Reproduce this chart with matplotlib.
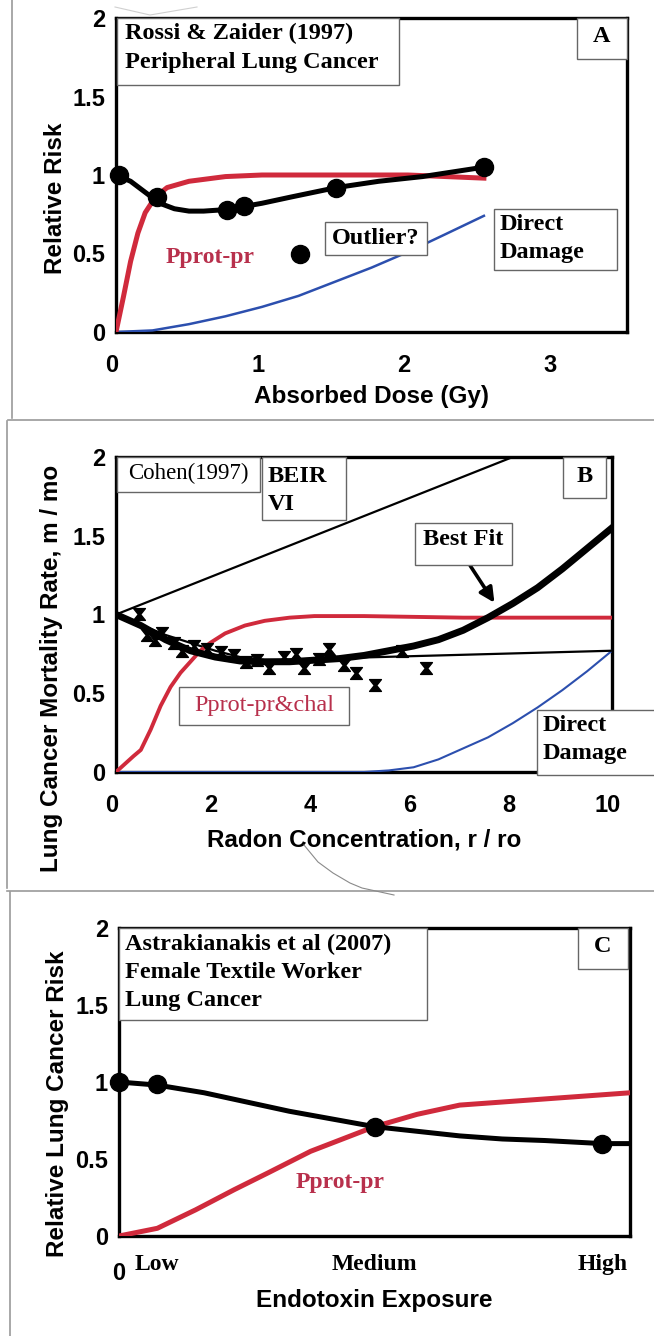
import matplotlib
matplotlib.use("Agg")
import matplotlib.pyplot as plt
import matplotlib.transforms as mtransforms
from matplotlib.patches import Rectangle
from matplotlib.lines import Line2D
from matplotlib.path import Path

# ---- Panel A: Rossi & Zaider (1997), peripheral lung cancer ----
dose_obs = [0.02, 0.28, 0.76, 0.88, 1.51, 2.52]
rr_obs = [1.00, 0.86, 0.78, 0.80, 0.92, 1.05]
dose_outlier = [1.26]
rr_outlier = [0.50]
dose_fit = [0.0, 0.1, 0.2, 0.3, 0.4, 0.5, 0.6, 0.76, 0.88, 1.0, 1.2, 1.51, 1.8, 2.1, 2.52]
rr_fit = [1.00, 0.96, 0.89, 0.82, 0.785, 0.77, 0.77, 0.78, 0.80, 0.82, 0.86, 0.92, 0.96, 0.99, 1.05]
dose_prot = [0.0, 0.05, 0.1, 0.15, 0.2, 0.27, 0.35, 0.5, 0.75, 1.0, 2.0, 2.52]
prot_a = [0.0, 0.22, 0.45, 0.63, 0.76, 0.86, 0.92, 0.96, 0.99, 1.0, 1.0, 0.98]
dose_direct = [0.0, 0.25, 0.5, 0.75, 1.0, 1.25, 1.5, 1.75, 2.0, 2.25, 2.52]
direct_a = [0.0, 0.01, 0.05, 0.10, 0.16, 0.23, 0.32, 0.41, 0.51, 0.62, 0.74]

# ---- Panel B: Cohen (1997), radon ----
radon_obs = [0.46, 0.63, 0.79, 0.93, 1.17, 1.33, 1.57, 1.84, 2.12, 2.37, 2.62, 2.85,
             3.08, 3.38, 3.62, 3.80, 4.09, 4.29, 4.59, 4.83, 5.22, 5.77, 6.24]
rate_obs = [1.00, 0.87, 0.84, 0.88, 0.82, 0.77, 0.80, 0.78, 0.76, 0.74, 0.70, 0.71,
            0.66, 0.73, 0.75, 0.66, 0.72, 0.78, 0.68, 0.63, 0.55, 0.77, 0.66]
radon_fit = [0, 0.5, 1, 1.5, 2, 2.5, 3, 3.5, 4, 4.5, 5, 5.5, 6, 6.5, 7, 7.5, 8, 8.5, 9, 9.5, 10]
rate_fit = [1.0, 0.93, 0.84, 0.77, 0.73, 0.705, 0.70, 0.70, 0.71, 0.72, 0.74, 0.77, 0.80,
            0.84, 0.90, 0.98, 1.07, 1.17, 1.29, 1.42, 1.55]
radon_beir = [0, 8]
rate_beir = [1.0, 2.0]
radon_lin = [0, 1, 2, 2.5, 3, 10]
rate_lin = [1.0, 0.87, 0.77, 0.73, 0.71, 0.77]
radon_prot = [0, 0.35, 0.5, 0.7, 0.9, 1.1, 1.3, 1.5, 1.7, 1.9, 2.2, 2.6, 3.0, 3.5, 4.0, 5.0, 7.0, 10.0]
prot_b = [0, 0.10, 0.14, 0.27, 0.42, 0.54, 0.63, 0.70, 0.77, 0.82, 0.88, 0.93, 0.96, 0.98, 0.99, 0.99, 0.98, 0.98]
radon_direct = [0, 5, 5.5, 6, 6.5, 7, 7.5, 8, 8.5, 9, 9.5, 10]
direct_b = [0, 0, 0.01, 0.03, 0.08, 0.15, 0.22, 0.31, 0.41, 0.52, 0.64, 0.77]

# ---- Panel C: Astrakianakis et al (2007), endotoxin ----
exposure_cats = ["0", "Low", "Medium", "High"]
exposure_pos = [0.0, 0.9, 6.0, 11.35]
risk_obs = [1.00, 0.99, 0.71, 0.60]
expo_fit = [0, 0.9, 2, 3, 4, 5, 6, 7, 8, 9, 10, 11.35, 12]
risk_fit = [1.00, 0.98, 0.93, 0.87, 0.81, 0.76, 0.71, 0.68, 0.65, 0.63, 0.62, 0.60, 0.60]
expo_prot = [0, 0.9, 1.8, 2.7, 3.5, 4.5, 6, 7, 8, 9, 10, 11, 12]
prot_c = [0, 0.05, 0.17, 0.30, 0.41, 0.55, 0.71, 0.79, 0.85, 0.87, 0.89, 0.91, 0.93]

RED = "#d02a3c"
RED_TXT = "#b8304c"
BLUE = "#2c4fae"
SANS = "Liberation Sans"
SERIF = "Liberation Serif"

plt.rcParams["font.family"] = SANS
plt.rcParams["font.weight"] = "bold"

W, H = 654, 1336
fig = plt.figure(figsize=(W / 100, H / 100), dpi=100)


def px_axes(left, top, right, bottom):
    return fig.add_axes([left / W, 1 - bottom / H, (right - left) / W, (bottom - top) / H])


def frame_line(xs, ys, **kw):
    fig.add_artist(Line2D([x / W for x in xs], [1 - y / H for y in ys],
                          transform=fig.transFigure, **kw))


def box(ax, x0, y0, x1, y1):
    ax.add_patch(Rectangle((x0, y0), x1 - x0, y1 - y0, transform=ax.transAxes,
                           facecolor="white", edgecolor="#666666", lw=1.0,
                           zorder=6, clip_on=False))


def boxtext(ax, x, y, s, ha="left", color="black", weight="bold", size=17.5):
    ax.text(x, y, s, transform=ax.transAxes, ha=ha, va="center", color=color,
            family=SERIF, weight=weight, fontsize=size, zorder=7)


def style_axes(ax, ylabel, xlabel, ylab_xy, xlab_y):
    for sp in ax.spines.values():
        sp.set_linewidth(2.4)
        sp.set_color("black")
    ax.set_ylim(0, 2)
    ax.set_yticks([0, 0.5, 1, 1.5, 2])
    ax.set_yticklabels(["0", "0.5", "1", "1.5", "2"])
    ax.tick_params(length=0, labelsize=17)
    ax.tick_params(axis="x", pad=16)
    ax.tick_params(axis="y", pad=8)
    ax.set_ylabel(ylabel, fontsize=17.5, weight="bold")
    ax.yaxis.set_label_coords(*ylab_xy)
    ax.set_xlabel(xlabel, fontsize=17.5, weight="bold")
    ax.xaxis.set_label_coords(0.5, xlab_y)
    shift = mtransforms.ScaledTranslation(-4 / 100, 0, fig.dpi_scale_trans)
    for lab in ax.get_xticklabels():
        lab.set_transform(lab.get_transform() + shift)


# hourglass marker used for the Cohen county data
hourglass = Path([(-1, 1), (1, 1), (0.2, 0), (1, -1), (-1, -1), (-0.2, 0), (-1, 1)],
                 [Path.MOVETO] + [Path.LINETO] * 5 + [Path.CLOSEPOLY])

# ---------------- Panel A ----------------
axA = px_axes(116, 18, 627, 332)
axA.plot(dose_direct, direct_a, color=BLUE, lw=1.8, zorder=3)
axA.plot(dose_prot, prot_a, color=RED, lw=3.6, zorder=3)
axA.plot(dose_fit, rr_fit, color="black", lw=3.6, zorder=4)
axA.plot(dose_obs, rr_obs, "o", color="black", ms=13, zorder=5, clip_on=False)
axA.plot(dose_outlier, rr_outlier, "o", color="black", ms=13, zorder=5)
axA.set_xlim(0, 3.5)
axA.set_xticks([0, 1, 2, 3])
axA.set_xticklabels(["0", "1", "2", "3"])
style_axes(axA, "Relative Risk", "Absorbed Dose (Gy)", (-0.095, 0.427), -0.170)

box(axA, 0.002, 0.787, 0.554, 1.0)
boxtext(axA, 0.018, 0.950, "Rossi & Zaider (1997)")
boxtext(axA, 0.018, 0.858, "Peripheral Lung Cancer")
box(axA, 0.902, 0.869, 1.0, 1.0)
boxtext(axA, 0.951, 0.940, "A", ha="center")
boxtext(axA, 0.184, 0.236, "Pprot-pr", ha="center", color=RED_TXT, size=17)
box(axA, 0.409, 0.245, 0.609, 0.350)
boxtext(axA, 0.509, 0.298, "Outlier?", ha="center")
box(axA, 0.740, 0.197, 0.980, 0.392)
boxtext(axA, 0.751, 0.341, "Direct")
boxtext(axA, 0.751, 0.252, "Damage")

# ---------------- Panel B ----------------
axB = px_axes(116, 457, 612, 772)
axB.plot(radon_direct, direct_b, color=BLUE, lw=1.5, zorder=3)
axB.plot(radon_beir, rate_beir, color="black", lw=1.6, zorder=3)
axB.plot(radon_lin, rate_lin, color="black", lw=1.6, zorder=3)
axB.plot(radon_prot, prot_b, color=RED, lw=2.8, zorder=3)
axB.plot(radon_fit, rate_fit, color="black", lw=5, zorder=4)
axB.plot(radon_obs, rate_obs, linestyle="none", marker=hourglass, ms=8.5,
         color="black", zorder=5)
axB.set_xlim(0, 10)
axB.set_xticks([0, 2, 4, 6, 8, 10])
axB.set_xticklabels(["0", "2", "4", "6", "8", "10"])
style_axes(axB, "Lung Cancer Mortality Rate, m / mo", "Radon Concentration, r / ro",
           (-0.107, 0.33), -0.178)

axB.annotate("", xy=(7.66, 1.06), xytext=(7.11, 1.325),
             arrowprops=dict(arrowstyle="-|>", color="black", lw=2.6,
                             mutation_scale=22), zorder=6)
box(axB, 0.002, 0.889, 0.290, 1.0)
boxtext(axB, 0.146, 0.947, "Cohen(1997)", ha="center", weight="normal", size=16.5)
box(axB, 0.294, 0.800, 0.464, 1.0)
boxtext(axB, 0.306, 0.937, "BEIR")
boxtext(axB, 0.306, 0.848, "VI")
box(axB, 0.901, 0.870, 0.988, 1.0)
boxtext(axB, 0.944, 0.937, "B", ha="center")
box(axB, 0.603, 0.657, 0.798, 0.790)
boxtext(axB, 0.700, 0.737, "Best Fit", ha="center")
box(axB, 0.127, 0.149, 0.470, 0.270)
boxtext(axB, 0.298, 0.210, "Pprot-pr&chal", ha="center", color=RED_TXT,
        weight="normal", size=17.5)
box(axB, 0.849, -0.01, 1.12, 0.197)
boxtext(axB, 0.859, 0.149, "Direct")
boxtext(axB, 0.859, 0.060, "Damage")

# ---------------- Panel C ----------------
axC = px_axes(119, 928, 630, 1236)
axC.plot(expo_prot, prot_c, color=RED, lw=3.6, zorder=3)
axC.plot(expo_fit, risk_fit, color="black", lw=3.6, zorder=4)
axC.plot(exposure_pos, risk_obs, "o", color="black", ms=13, zorder=5, clip_on=False)
axC.set_xlim(0, 12)
axC.set_xticks(exposure_pos)
axC.set_xticklabels(exposure_cats)
style_axes(axC, "Relative Lung Cancer Risk", "Endotoxin Exposure", (-0.098, 0.43), -0.172)
axC.tick_params(axis="x", pad=13)
for lab in axC.get_xticklabels()[1:]:
    lab.set_family(SERIF)
    lab.set_fontsize(17)
zero_lab = axC.get_xticklabels()[0]
zero_lab.set_transform(zero_lab.get_transform() +
                       mtransforms.ScaledTranslation(0, -8 / 100, fig.dpi_scale_trans))

box(axC, 0.0, 0.701, 0.603, 1.0)
boxtext(axC, 0.012, 0.945, "Astrakianakis et al (2007)")
boxtext(axC, 0.012, 0.854, "Female Textile Worker")
boxtext(axC, 0.012, 0.766, "Lung Cancer")
box(axC, 0.898, 0.867, 0.996, 1.0)
boxtext(axC, 0.947, 0.940, "C", ha="center")
boxtext(axC, 0.432, 0.175, "Pprot-pr", ha="center", color=RED_TXT, size=17)

# panel borders of the pasted figure
grey = dict(color="#9a9a9a", lw=1.2)
frame_line([12, 12], [0, 418], **grey)
frame_line([8, 654], [420, 420], **grey)
frame_line([7, 7], [421, 888], **grey)
frame_line([7, 654], [891, 891], **grey)
frame_line([10, 10], [892, 1336], **grey)
frame_line([304, 318, 333, 350, 362, 394], [845, 862, 873, 883, 888, 895],
           color="#8a8a8a", lw=0.8)
frame_line([115, 150, 197], [7, 15, 7], color="#d0d0d0", lw=0.8)

fig.savefig("out.png", dpi=100, facecolor="white")
